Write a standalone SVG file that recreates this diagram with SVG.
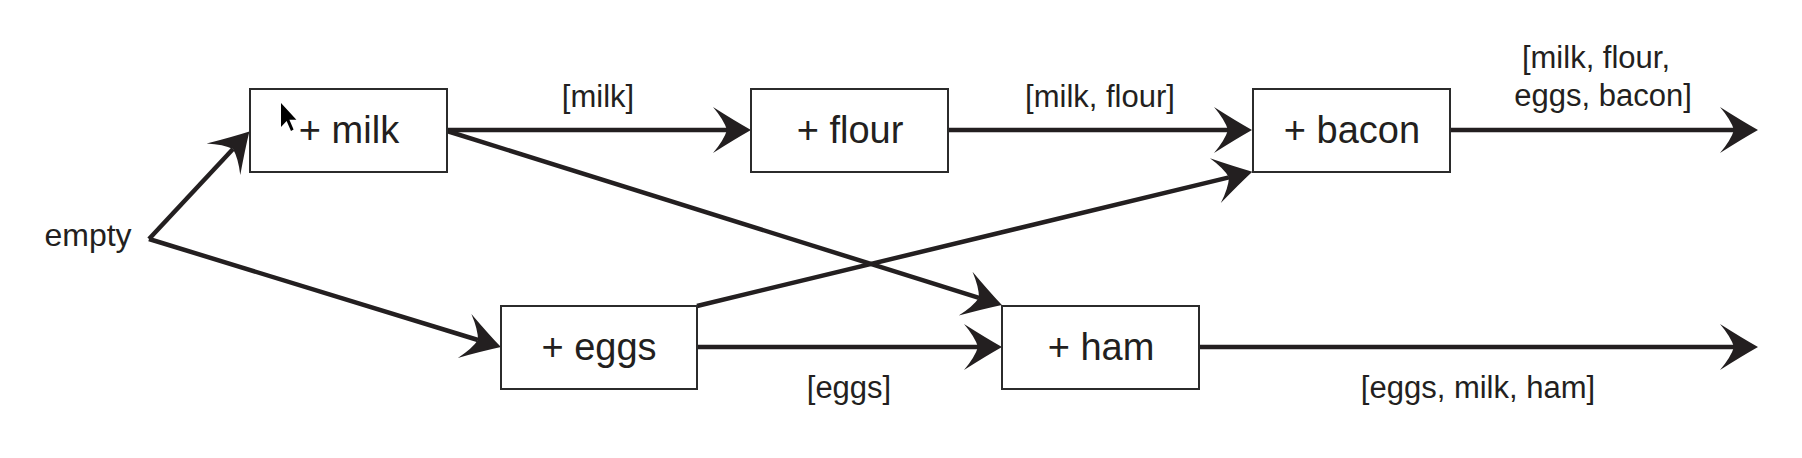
<svg xmlns="http://www.w3.org/2000/svg" width="1802" height="458" viewBox="0 0 1802 458">
<style>
  .box { fill: #ffffff; stroke: #2b2b2b; stroke-width: 2; }
  .node { font-family: "Liberation Sans", Arial, sans-serif; font-size: 38px; fill: #231f20; text-anchor: middle; }
  .lbl { font-family: "Liberation Sans", Arial, sans-serif; font-size: 31px; fill: #231f20; text-anchor: middle; }
  .edge { fill: none; stroke: #231f20; stroke-width: 4.5; marker-end: url(#arrow); }
</style>
<defs>
  <marker id="arrow" markerUnits="userSpaceOnUse" markerWidth="44" markerHeight="48" viewBox="-16 -24 44 48" refX="0" refY="0" orient="auto" overflow="visible">
    <path d="M24,0 Q8,-9 -14,-23 Q-3,-10 0,0 Q-3,10 -14,23 Q8,9 24,0 Z" fill="#231f20"/>
  </marker>
</defs>
<rect width="1802" height="458" fill="#ffffff"/>
<g id="connectors">
  <line class="edge" x1="149" y1="239" x2="233" y2="149"/>
  <line class="edge" x1="149" y1="239" x2="478" y2="340"/>
  <line class="edge" x1="447" y1="130" x2="727" y2="130"/>
  <line class="edge" x1="447" y1="131" x2="979" y2="297.8"/>
  <line class="edge" x1="697" y1="306" x2="1229" y2="177.4"/>
  <line class="edge" x1="948" y1="130" x2="1228" y2="130"/>
  <line class="edge" x1="1450" y1="130" x2="1734" y2="130"/>
  <line class="edge" x1="697" y1="347" x2="978" y2="347"/>
  <line class="edge" x1="1199" y1="347" x2="1734" y2="347"/>
  <text class="lbl" x="598" y="107">[milk]</text>
  <text class="lbl" x="1100" y="107">[milk, flour]</text>
  <text class="lbl" x="1596" y="68">[milk, flour,</text>
  <text class="lbl" x="1603" y="106">eggs, bacon]</text>
  <text class="lbl" x="849" y="398">[eggs]</text>
  <text class="lbl" x="1478" y="398">[eggs, milk, ham]</text>
</g>
<g id="empty">
  <text class="lbl" x="88" y="246" style="font-size:32px">empty</text>
</g>
<g id="milk">
  <rect class="box" x="250" y="89" width="197" height="83"/>
  <text class="node" x="349" y="143">+ milk</text>
</g>
<g id="flour">
  <rect class="box" x="751" y="89" width="197" height="83"/>
  <text class="node" x="850" y="143">+ flour</text>
</g>
<g id="bacon">
  <rect class="box" x="1253" y="89" width="197" height="83"/>
  <text class="node" x="1352" y="143">+ bacon</text>
</g>
<g id="eggs">
  <rect class="box" x="501" y="306" width="196" height="83"/>
  <text class="node" x="599" y="360">+ eggs</text>
</g>
<g id="ham">
  <rect class="box" x="1002" y="306" width="197" height="83"/>
  <text class="node" x="1101" y="360">+ ham</text>
</g>
<g id="cursor">
  <polygon points="281,103 281,127 286.6,121 291,131 293.6,129.6 289.4,119.8 296.4,119.8" fill="#000000"/>
</g>
</svg>
